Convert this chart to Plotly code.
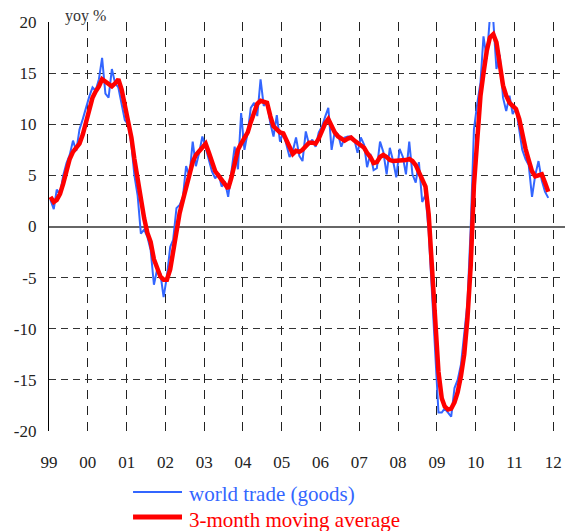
import plotly.graph_objects as go

# ---- data ----
year_ticks = [f"{y}-01-01" for y in range(1999, 2013)]
year_labels = ["99", "00", "01", "02", "03", "04", "05", "06", "07", "08", "09", "10", "11", "12"]
y_ticks = [-20, -15, -10, -5, 0, 5, 10, 15, 20]
y_labels = ["-20", "-15", "-10", "-5", "0", "5", "10", "15", "20"]

# monthly yoy % growth, Jan 1999 - Nov 2011
world_trade = [
    2.6, 1.7, 3.6, 3.2, 5.0, 6.2, 7.0, 8.4, 7.4, 9.5, 10.5, 11.6,          # 1999
    12.7, 13.6, 13.3, 14.4, 16.5, 13.0, 12.6, 15.4, 14.0, 13.6, 12.0, 10.4,  # 2000
    10.0, 8.0, 5.0, 3.0, -0.7, -0.3, -1.0, -2.3, -5.7, -4.2, -4.6, -6.9,   # 2001
    -4.9, -2.0, -1.3, 1.8, 2.1, 2.9, 5.9, 4.9, 8.3, 5.9, 7.2, 8.8,         # 2002
    7.7, 6.6, 5.4, 4.7, 5.2, 3.9, 4.4, 2.9, 5.2, 7.8, 5.6, 11.1,           # 2003
    7.5, 9.2, 11.6, 12.1, 10.8, 14.4, 11.8, 12.1, 10.1, 8.8, 10.9, 8.3,    # 2004
    9.2, 8.0, 6.8, 7.4, 8.7, 6.9, 6.4, 9.3, 8.0, 8.5, 7.8, 9.2,            # 2005
    9.8, 10.8, 11.6, 7.5, 9.3, 9.0, 7.8, 8.7, 8.8, 8.8, 8.5, 7.2,          # 2006
    8.7, 8.0, 5.8, 7.1, 5.5, 5.7, 8.3, 7.3, 5.1, 7.7, 6.4, 4.8,            # 2007
    7.6, 6.8, 5.1, 8.3, 5.1, 4.3, 6.3, 2.4, 3.1, -0.5, -6.5, -13.0,        # 2008
    -18.2, -18.2, -17.8, -18.2, -18.6, -15.8, -15.0, -13.5, -10.2, -7.5, 0.0, 9.5,  # 2009
    12.0, 14.1, 18.6, 16.4, 20.6, 20.2, 15.4, 16.8, 12.6, 11.3, 12.8, 11.0,  # 2010
    11.6, 9.6, 7.5, 6.6, 6.0, 2.9, 5.0, 6.4, 4.5, 3.4, 2.8,               # 2011
]

moving_avg = [
    2.9, 2.4, 2.6, 3.2, 4.2, 5.4, 6.6, 7.3, 7.7, 8.1, 9.0, 10.3,           # 1999
    11.6, 12.6, 13.2, 13.7, 14.4, 14.2, 13.9, 13.7, 14.0, 14.4, 13.4, 11.8,  # 2000
    10.5, 8.7, 6.6, 4.4, 2.3, 0.8, -0.6, -1.5, -3.2, -4.2, -4.9, -5.2,     # 2001
    -5.2, -4.2, -2.3, -0.3, 1.3, 2.6, 3.9, 5.2, 6.3, 7.0, 7.4, 7.8,        # 2002
    8.1, 7.2, 6.2, 5.4, 5.0, 4.5, 4.0, 3.7, 4.8, 6.1, 7.5, 8.1,            # 2003
    8.6, 9.2, 10.2, 11.1, 12.0, 12.3, 12.2, 12.1, 10.8, 9.8, 9.5, 9.2,     # 2004
    9.1, 8.4, 7.7, 7.1, 7.4, 7.3, 7.5, 7.9, 8.2, 8.2, 8.1, 8.6,            # 2005
    9.4, 10.1, 10.5, 9.7, 9.2, 8.8, 8.6, 8.4, 8.6, 8.7, 8.4, 8.2,          # 2006
    8.0, 7.7, 7.2, 6.8, 6.2, 6.3, 6.8, 7.0, 6.8, 6.5, 6.4, 6.4,            # 2007
    6.4, 6.5, 6.5, 6.6, 6.4, 6.0, 5.3, 4.4, 3.9, 1.2, -3.5, -9.5,          # 2008
    -14.2, -16.8, -17.6, -17.9, -17.8, -17.2, -16.2, -14.6, -12.5, -9.0, -3.8, 4.0,  # 2009
    9.3, 12.8, 15.0, 17.2, 18.5, 18.8, 18.0, 15.8, 13.8, 12.8, 12.1, 11.8,  # 2010
    11.5, 10.5, 9.0, 7.6, 6.5, 5.4, 4.9, 5.0, 5.1, 4.3, 3.4,              # 2011
]

months = [f"{1999 + i // 12}-{i % 12 + 1:02d}-15" for i in range(len(world_trade))]

BLUE = "#3366FF"
RED = "#FF0000"
FONT = "'Liberation Serif', 'DejaVu Serif', serif"

fig = go.Figure()
fig.add_trace(go.Scatter(x=months, y=world_trade, mode="lines",
                         line=dict(color=BLUE, width=2), name="world trade (goods)"))
fig.add_trace(go.Scatter(x=months, y=moving_avg, mode="lines",
                         line=dict(color=RED, width=4.5), name="3-month moving average"))

# the page body adds an 8px offset, so the figure is sized to fit inside the window
fig.update_layout(
    width=565, height=523,
    margin=dict(l=41, r=2, t=14, b=100),
    paper_bgcolor="white", plot_bgcolor="white",
    showlegend=False,
    font=dict(family=FONT, size=17, color="#222"),
    xaxis=dict(
        type="date", range=["1999-01-01", "2012-06-16"],
        tickmode="array", tickvals=year_ticks, ticktext=year_labels,
        showgrid=True, gridcolor="#222", gridwidth=1, griddash="9px,7px",
        showline=False, zeroline=False, ticks="",
        ticklabelstandoff=19,
        tickfont=dict(family=FONT, size=17, color="#222"),
    ),
    yaxis=dict(
        range=[-20, 20],
        tickmode="array", tickvals=y_ticks, ticktext=y_labels,
        showgrid=True, gridcolor="#333", gridwidth=1, griddash="7px,5px",
        zeroline=True, zerolinecolor="#666", zerolinewidth=1.6,
        showline=True, linecolor="#000", linewidth=1.3, ticks="",
        ticklabelstandoff=8,
        tickfont=dict(family=FONT, size=17, color="#222"),
    ),
)

# axis unit
fig.add_annotation(text="yoy %", xref="paper", yref="paper", x=0.027, y=1.015,
                   xanchor="left", yanchor="middle", showarrow=False,
                   font=dict(family=FONT, size=16, color="#333"))

# legend drawn below the chart
legend_items = [("world trade (goods)", BLUE, 2, -0.149, -0.154),
                ("3-month moving average", RED, 5, -0.210, -0.2176)]
for label, color, w, yl, yt in legend_items:
    fig.add_shape(type="line", xref="paper", yref="paper",
                  x0=0.161, x1=0.2548, y0=yl, y1=yl,
                  line=dict(color=color, width=w))
    fig.add_annotation(text=label, xref="paper", yref="paper", x=0.2644, y=yt,
                       xanchor="left", yanchor="middle", showarrow=False,
                       font=dict(family=FONT, size=21, color=color))

fig.write_html("out.html")
